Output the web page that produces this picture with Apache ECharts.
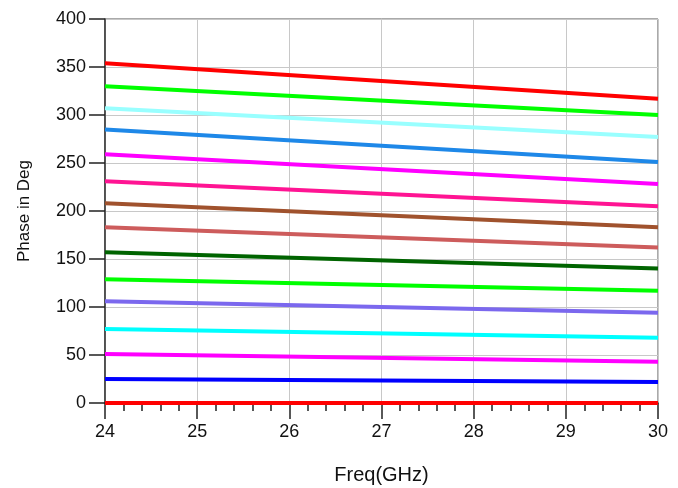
<!DOCTYPE html>
<html>
<head>
<meta charset="utf-8">
<script src="https://cdn.jsdelivr.net/npm/echarts@6/dist/echarts.min.js"></script>
<style>
html,body{margin:0;padding:0;background:#fff;}
#chart{width:678px;height:488px;}
</style>
</head>
<body>
<div id="chart"></div>
<script>
// Frequency endpoints (GHz)
const freqs = [24, 30];
// Phase values (deg) at start and end frequency for each trace, top to bottom
const trace1  = [354, 317];
const trace2  = [330, 300];
const trace3  = [307, 277];
const trace4  = [285, 251];
const trace5  = [259, 228];
const trace6  = [231, 205];
const trace7  = [208, 183];
const trace8  = [183, 162];
const trace9  = [157, 140];
const trace10 = [129, 117];
const trace11 = [106, 94];
const trace12 = [77, 68];
const trace13 = [51, 43];
const trace14 = [25, 22];
const trace15 = [0, 0];
const traces = [trace1, trace2, trace3, trace4, trace5, trace6, trace7, trace8, trace9, trace10, trace11, trace12, trace13, trace14, trace15];
const colors = ['#ff0000', '#00ff00', '#99ffff', '#1e88e8', '#ff00ff', '#ff1493', '#a0522d', '#cd5c5c', '#006400', '#00ff00', '#7b68ee', '#00ffff', '#ff00ff', '#0000ff', '#ff0000'];

const chart = echarts.init(document.getElementById('chart'), null, {renderer: 'canvas'});
const font = 'Liberation Sans, Arial, sans-serif';
chart.setOption({
  animation: false,
  grid: {left: 105, right: 20, top: 19, bottom: 85, containLabel: false, outerBoundsMode: 'none',
         show: true, borderColor: '#555', borderWidth: 1, backgroundColor: 'transparent'},
  xAxis: {
    type: 'value', min: 24, max: 30, interval: 1,
    name: 'Freq(GHz)', nameLocation: 'middle', nameGap: 62,
    nameTextStyle: {fontFamily: font, fontSize: 20, color: '#111'},
    axisLine: {show: true, lineStyle: {color: '#333', width: 1.5}},
    axisTick: {show: true, length: 16, lineStyle: {color: '#222', width: 1.5}},
    minorTick: {show: true, splitNumber: 5, length: 8, lineStyle: {color: '#222', width: 1.5}},
    axisLabel: {fontFamily: font, fontSize: 18, color: '#111', margin: 20},
    splitLine: {show: true, lineStyle: {color: '#c8c8c8', width: 1}}
  },
  yAxis: {
    type: 'value', min: 0, max: 400, interval: 50,
    name: 'Phase in Deg', nameLocation: 'middle', nameGap: 72,
    nameTextStyle: {fontFamily: font, fontSize: 17, color: '#111'},
    axisLine: {show: true, lineStyle: {color: '#333', width: 1.5}},
    axisTick: {show: true, length: 16, lineStyle: {color: '#222', width: 1.5}},
    axisLabel: {fontFamily: font, fontSize: 18, color: '#111', margin: 19},
    splitLine: {show: true, lineStyle: {color: '#c8c8c8', width: 1}}
  },
  series: traces.map((t, i) => ({
    type: 'line',
    data: freqs.map((f, j) => [f, t[j]]),
    showSymbol: false,
    symbol: 'none',
    clip: false,
    z: 3,
    lineStyle: {color: colors[i], width: 4},
    itemStyle: {color: colors[i]}
  }))
});
</script>
</body>
</html>
